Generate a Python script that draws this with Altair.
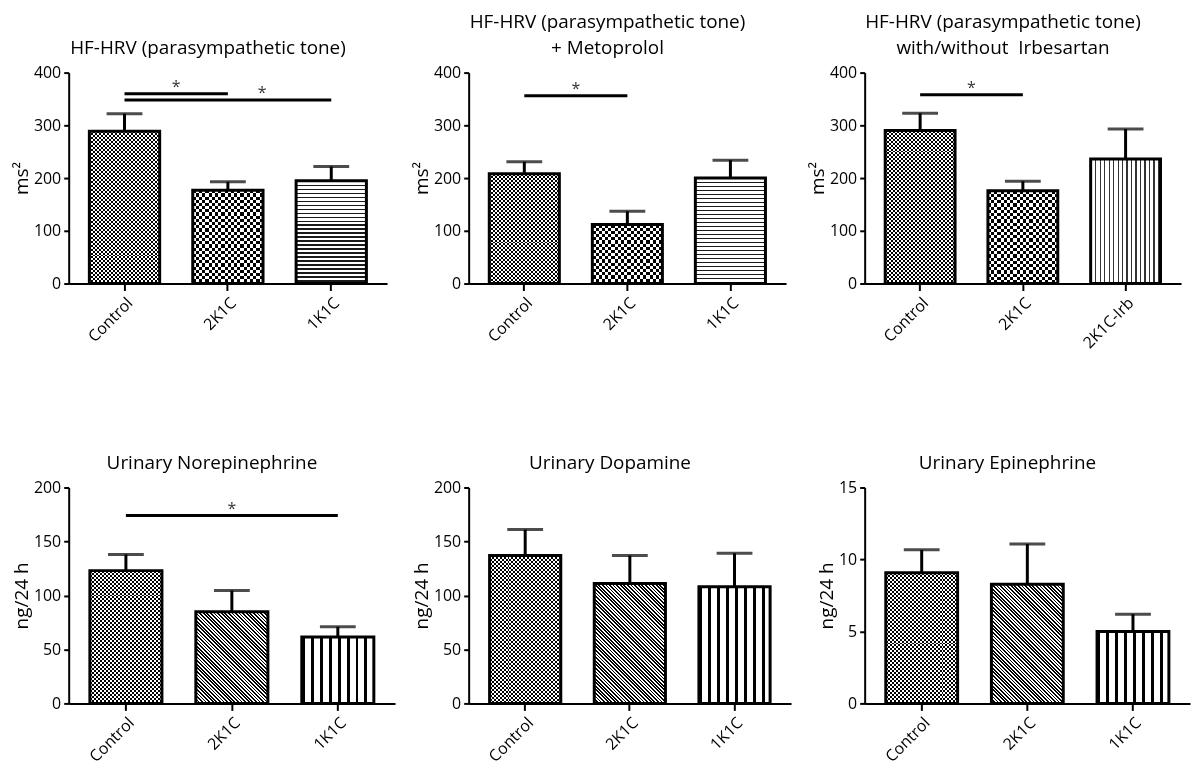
import math
import altair as alt
import pandas as pd

FONT = "Open Sans"

# ---------------- data ----------------
cats_a = ["Control", "2K1C", "1K1C"]
cats_b = ["Control", "2K1C", "2K1C-Irb"]

hf_mean = [289, 177, 195]
hf_sem = [33, 16, 27]

meto_mean = [208, 112, 200]
meto_sem = [23, 25, 34]

irb_mean = [290, 176, 236]
irb_sem = [33, 18, 57]

ne_mean = [123, 85, 61.5]
ne_sem = [15, 19.5, 9.5]

da_mean = [137, 111, 108]
da_sem = [24, 26, 31]

epi_mean = [9.07, 8.28, 5.0]
epi_sem = [1.6, 2.8, 1.2]

panel_titles = [
    ["HF-HRV (parasympathetic tone)"],
    ["HF-HRV (parasympathetic tone)", "+ Metoprolol"],
    ["HF-HRV (parasympathetic tone)", "with/without\u00a0 Irbesartan"],
    ["Urinary Norepinephrine"],
    ["Urinary Dopamine"],
    ["Urinary Epinephrine"],
]
y_titles = ["ms\u00b2", "ms\u00b2", "ms\u00b2", "ng/24 h", "ng/24 h", "ng/24 h"]
y_max = [400, 400, 400, 200, 200, 15]
y_ticks = [
    [0, 100, 200, 300, 400],
    [0, 100, 200, 300, 400],
    [0, 100, 200, 300, 400],
    [0, 50, 100, 150, 200],
    [0, 50, 100, 150, 200],
    [0, 5, 10, 15],
]

# significance bars: (from, to, y, star anchor category, star shift in steps)
sig_1 = [("Control", "2K1C", 360, "Control", 0.5), ("Control", "1K1C", 348, "2K1C", 0.33)]
sig_2 = [("Control", "2K1C", 356, "Control", 0.5)]
sig_3 = [("Control", "2K1C", 358, "Control", 0.5)]
sig_4 = [("Control", "1K1C", 174, "2K1C", 0.0)]

panels_data = [
    (cats_a, hf_mean, hf_sem, sig_1, ["checkfine", "checkcoarse", "hlines"]),
    (cats_a, meto_mean, meto_sem, sig_2, ["checkfine", "checkcoarse", "hlines"]),
    (cats_b, irb_mean, irb_sem, sig_3, ["checkfine", "checkcoarse", "vlines"]),
    (cats_a, ne_mean, ne_sem, sig_4, ["checkfine", "diag", "vbars"]),
    (cats_a, da_mean, da_sem, [], ["checkfine", "diag", "vbars"]),
    (cats_a, epi_mean, epi_sem, [], ["checkfine", "diag", "vbars"]),
]

# ---------------- layout / style ----------------
PW = [320, 319, 318, 328, 324, 327]
PH = [212, 212, 212, 217, 217, 217]
PAD_IN = 0.32
PAD_OUT = 0.2


def stops_for(length, period, dark_frac, dark, light):
    stops = []
    n = int(math.ceil(length / period))
    for i in range(n):
        a = i * period / length
        if a >= 1:
            break
        b = min((i * period + dark_frac * period) / length, 1.0)
        c = min((i + 1) * period / length, 1.0)
        stops += [
            {"offset": round(a, 5), "color": dark},
            {"offset": round(b, 5), "color": dark},
            {"offset": round(b, 5), "color": light},
            {"offset": round(c, 5), "color": light},
        ]
    return stops


def grad_h(H, period, frac, dark="#000000", light="#ffffff"):
    return {"gradient": "linear", "x1": 0, "y1": 0, "x2": 0, "y2": 1,
            "stops": stops_for(H, period, frac, dark, light)}


def grad_v(W, period, frac, dark="#000000", light="#ffffff"):
    return {"gradient": "linear", "x1": 0, "y1": 0, "x2": 1, "y2": 0,
            "stops": stops_for(W, period, frac, dark, light)}


def grad_diag(W, H, period, frac, dark="#000000", light="#ffffff"):
    k = (W + H) / (W * W + H * H)
    L = (W + H) / math.sqrt(2)
    return {"gradient": "linear", "x1": 0, "y1": 1,
            "x2": round(k * W, 6), "y2": round(1 - k * H, 6),
            "stops": stops_for(L, period, frac, dark, light)}


def pattern_layers(kind, W, H):
    if kind == "checkfine":
        return [(grad_h(H, 4.0, 0.5), None), (grad_v(W, 4.0, 0.5), "difference")]
    if kind == "checkcoarse":
        return [(grad_h(H, 6.4, 0.5), None), (grad_v(W, 6.4, 0.5), "difference")]
    if kind == "hlines":
        return [(grad_h(H, 4.0, 0.35, dark="#1a1a1a"), None)]
    if kind == "vlines":
        return [(grad_v(W, 4.5, 0.3, dark="#333333"), None)]
    if kind == "vbars":
        return [(grad_v(W, 9.0, 0.33), None)]
    if kind == "diag":
        return [(grad_diag(W, H, 2.55, 0.5), None)]
    return []


def make_panel(idx):
    cats, means, sems, sigs, pats = panels_data[idx]
    W_plot, H_plot = PW[idx], PH[idx]
    ymax = y_max[idx]
    step = W_plot / (len(cats) - PAD_IN + 2 * PAD_OUT)
    bw = step * (1 - PAD_IN)

    df = pd.DataFrame({"cat": cats, "mean": means, "sem": sems})
    df["top"] = df["mean"] + df["sem"]

    xscale = alt.Scale(domain=cats, paddingInner=PAD_IN, paddingOuter=PAD_OUT)
    yscale = alt.Scale(domain=[0, ymax], nice=False, zero=True)
    xaxis = alt.Axis(title=None, labelAngle=-45, labelFontSize=16, labelColor="black",
                     labelFont=FONT, domainColor="black", domainWidth=2, tickColor="black",
                     tickWidth=2, tickSize=7, labelPadding=4, grid=False)
    yaxis = alt.Axis(title=y_titles[idx], values=y_ticks[idx], labelFontSize=16,
                     labelColor="black", labelFont=FONT, domainColor="black", domainWidth=2,
                     tickColor="black", tickWidth=2, tickSize=5, labelPadding=3, grid=False,
                     titleFontSize=19, titleFont=FONT, titleFontWeight="normal",
                     titleColor="black", titlePadding=2)

    def X(field):
        return alt.X(f"{field}:N", scale=xscale, axis=xaxis, sort=cats)

    def Y(field):
        return alt.Y(f"{field}:Q", scale=yscale, axis=yaxis)

    base = alt.Chart(df)
    layers = []
    # error bars
    layers.append(base.mark_rule(color="black", strokeWidth=3).encode(
        x=X("cat"), y=Y("mean"), y2="top:Q"))
    layers.append(base.mark_tick(color="black", thickness=3, size=36).encode(
        x=X("cat"), y=Y("top")))
    # pattern fills
    for cat, v, kind in zip(cats, means, pats):
        H = v / ymax * H_plot
        for grad, blend in pattern_layers(kind, bw, H):
            kw = {"fill": grad, "strokeWidth": 0}
            if blend:
                kw["blend"] = blend
            layers.append(base.transform_filter(alt.datum.cat == cat).mark_bar(**kw).encode(
                x=X("cat"), y=Y("mean")))
    # outlines
    layers.append(base.mark_bar(fill="transparent", stroke="black", strokeWidth=3).encode(
        x=X("cat"), y=Y("mean")))
    # significance
    if sigs:
        sdf = pd.DataFrame({
            "from": [s[0] for s in sigs], "to": [s[1] for s in sigs],
            "y": [s[2] for s in sigs], "star": [s[3] for s in sigs],
        })
        layers.append(alt.Chart(sdf).mark_rule(color="black", strokeWidth=3).encode(
            x=alt.X("from:N", scale=xscale, axis=xaxis, sort=cats, bandPosition=0.5),
            x2=alt.X2("to:N", bandPosition=0.5),
            y=Y("y")))
        for i, s in enumerate(sigs):
            layers.append(alt.Chart(sdf.iloc[[i]]).mark_text(
                text="*", fontSize=16, font=FONT, color="#333333",
                dx=round(s[4] * step, 1), dy=-7, baseline="middle").encode(
                x=alt.X("star:N", scale=xscale, axis=xaxis, sort=cats),
                y=Y("y")))

    return alt.layer(*layers).properties(
        width=W_plot, height=H_plot,
        title=alt.TitleParams(text=panel_titles[idx], fontSize=19, font=FONT,
                              fontWeight="normal", color="black", anchor="middle",
                              dx=-20, offset=7, lineHeight=26),
    )


panels = [make_panel(i) for i in range(6)]

chart = alt.concat(*panels, columns=3, spacing={"row": 205, "column": 74},
                   bounds="flush", align="none",
                   padding={"left": 4, "top": 3, "right": 2, "bottom": 2}).configure(
    font=FONT, background="white").configure_view(stroke=None)

chart.save("out.html", embed_options={"renderer": "svg", "actions": False})
